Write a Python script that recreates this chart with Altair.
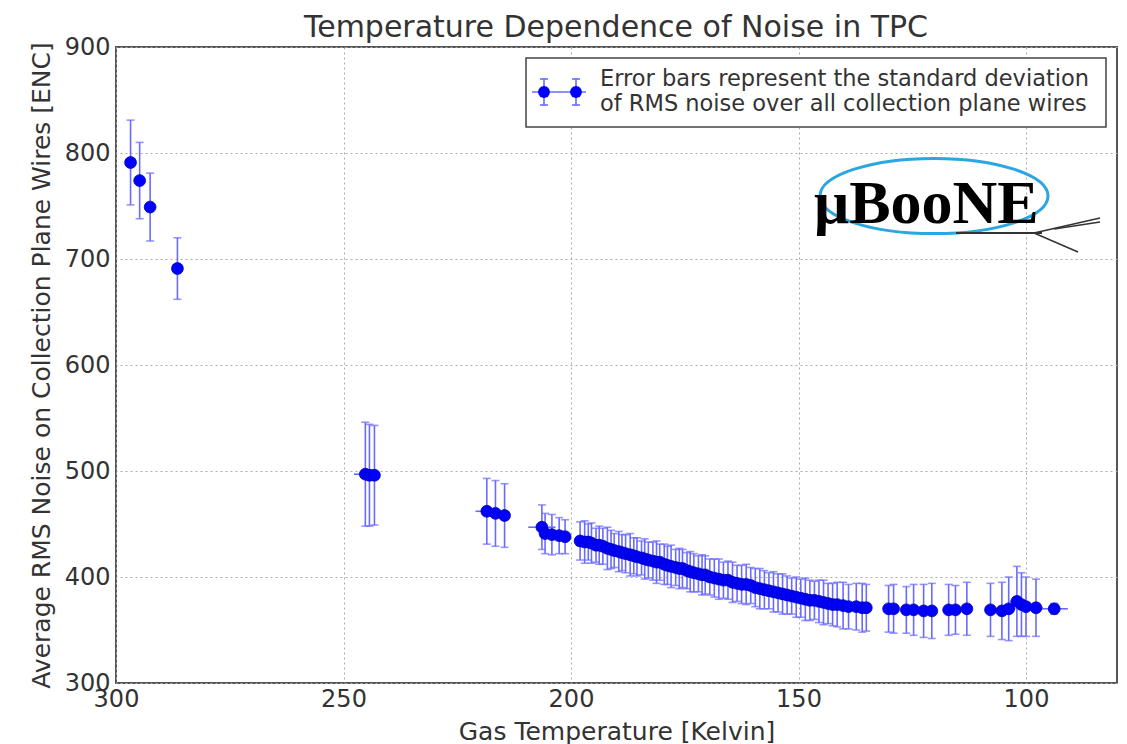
import altair as alt
import pandas as pd

# ---------------- data ----------------
TEMP = [
    296.8, 294.8, 292.5, 286.5,
    245.2, 244.3, 243.2,
    218.5, 216.6, 214.6,
    206.4, 205.7, 204.2, 202.6, 201.3,
    198.0, 197.0, 196.2, 195.5, 194.5, 193.8, 193.0, 192.0, 191.2, 190.5,
    189.5, 188.8, 188.0, 187.0, 186.2, 185.5, 184.5, 183.8, 183.0, 182.0,
    181.2, 180.5, 179.5, 178.8, 178.0, 177.0, 176.2, 175.5, 174.5, 173.8,
    173.0, 172.0, 171.2, 170.5, 169.5, 168.5, 167.5, 166.5, 165.5, 164.5,
    163.5, 162.5, 161.5, 160.5, 159.5, 158.5, 157.5, 156.5, 155.5, 154.5,
    153.5, 152.5, 151.5, 150.5, 149.5, 148.5, 147.5, 146.5, 145.5, 144.5,
    143.5, 142.5, 141.5, 140.2, 139.0, 137.3, 136.0, 135.1,
    130.2, 129.1, 126.3, 124.7, 122.5, 120.7, 117.0, 115.5, 113.0,
    107.8, 105.3, 103.8, 102.0, 101.0, 100.0, 97.8, 93.8,
]
NOISE = [
    791, 774, 749, 691,
    497, 496, 496,
    462, 460, 458,
    447, 441, 440, 439, 438,
    434, 433, 433, 432, 430, 430, 429, 427, 426, 425,
    424, 423, 422, 421, 420, 419, 418, 417, 416, 415,
    414, 414, 412, 411, 410, 409, 408, 408, 406, 405,
    404, 403, 402, 402, 400, 399, 398, 397, 397, 395,
    394, 393, 393, 392, 390, 389, 388, 387, 386, 385,
    384, 383, 382, 381, 380, 379, 378, 378, 377, 376,
    375, 374, 374, 373, 372, 372, 371, 371,
    370, 370, 369, 369, 368, 368, 369, 369, 370,
    369, 368, 370, 377, 374, 372, 371, 370,
]
NOISE_ERR = [
    40, 36, 32, 29,
    49, 48, 47,
    31, 31, 30,
    21, 19, 19, 17, 16,
    18, 20, 17, 19, 16, 18, 17, 20, 18, 16,
    19, 17, 18, 20, 17, 18, 16, 19, 17, 18,
    20, 17, 19, 18, 20, 17, 19, 18, 17, 19,
    18, 17, 19, 18, 17, 18, 19, 17, 18, 19,
    17, 18, 19, 17, 18, 19, 18, 17, 19, 18,
    19, 18, 17, 19, 18, 20, 19, 18, 20, 21,
    19, 20, 21, 22, 21, 22, 23, 22,
    22, 23, 22, 24, 25, 26, 24, 23, 25,
    25, 27, 30, 33, 30, 28, 27, 5,
]
TEMP_ERR = [
    0.3, 0.3, 0.3, 0.3,
    2.5, 1.0, 0.5,
    2.5, 0.5, 0.5,
    3.0, 1.0, 1.0, 0.5, 0.5,
    1.0, 0.8, 0.6, 0.8, 0.6, 0.8, 0.6, 0.8, 0.6, 0.8,
    0.6, 0.8, 0.6, 0.8, 0.6, 0.8, 0.6, 0.8, 0.6, 0.8,
    0.6, 0.8, 0.6, 0.8, 0.6, 0.8, 0.6, 0.8, 0.6, 0.8,
    0.6, 0.8, 0.6, 0.8, 0.6, 0.8, 0.6, 0.8, 0.6, 0.8,
    0.6, 0.8, 0.6, 0.8, 0.6, 0.8, 0.6, 0.8, 0.6, 0.8,
    0.6, 0.8, 0.6, 0.8, 0.6, 0.8, 0.6, 0.8, 0.6, 0.8,
    0.6, 0.8, 0.6, 0.8, 1.0, 1.0, 1.0, 1.0,
    1.0, 1.0, 1.0, 1.0, 1.0, 1.0, 1.0, 1.0, 1.0,
    1.0, 1.0, 1.5, 1.5, 1.5, 1.5, 1.5, 3.0,
]

X_TICKS = [300, 250, 200, 150, 100]
Y_TICKS = [300, 400, 500, 600, 700, 800, 900]
TITLE = "Temperature Dependence of Noise in TPC"
X_TITLE = "Gas Temperature [Kelvin]"
Y_TITLE = "Average RMS Noise on Collection Plane Wires [ENC]"
LEGEND_LINES = ["Error bars represent the standard deviation",
                "of RMS noise over all collection plane wires"]
LOGO_TEXT = "\u03bcBooNE"

df = pd.DataFrame({"T": TEMP, "N": NOISE, "dN": NOISE_ERR, "dT": TEMP_ERR})

BLUE = "#0000ff"
ERR = "#6a6aff"
FONT = "DejaVu Sans"
TXT = "#333333"

xscale = alt.Scale(domain=[80, 300], reverse=True, nice=False, zero=False)
yscale = alt.Scale(domain=[300, 900], nice=False, zero=False)

x_axis = alt.Axis(title=X_TITLE, values=X_TICKS, labelFlush=False, labelPadding=4,
                  titlePadding=8, format="d")
y_axis = alt.Axis(title=Y_TITLE, values=Y_TICKS, labelPadding=6, titlePadding=10,
                  format="d")

base = alt.Chart(df).transform_calculate(
    lo="datum.N - datum.dN", hi="datum.N + datum.dN",
    tlo="datum.T - datum.dT", thi="datum.T + datum.dT",
)

vbars = base.mark_rule(color=ERR, strokeWidth=1.6).encode(
    x=alt.X("T:Q", scale=xscale, axis=x_axis),
    y=alt.Y("lo:Q", scale=yscale, axis=y_axis),
    y2="hi:Q",
)
cap_lo = base.mark_tick(color=ERR, orient="horizontal", size=8, thickness=1.6).encode(
    x=alt.X("T:Q", scale=xscale, axis=x_axis),
    y=alt.Y("lo:Q", scale=yscale, axis=y_axis),
)
cap_hi = base.mark_tick(color=ERR, orient="horizontal", size=8, thickness=1.6).encode(
    x=alt.X("T:Q", scale=xscale, axis=x_axis),
    y=alt.Y("hi:Q", scale=yscale, axis=y_axis),
)
hbars = base.mark_rule(color=ERR, strokeWidth=1.6).encode(
    x=alt.X("tlo:Q", scale=xscale, axis=x_axis),
    x2="thi:Q",
    y=alt.Y("N:Q", scale=yscale, axis=y_axis),
)
points = base.mark_point(shape="circle", filled=True, color=BLUE, size=140, opacity=1,
                         stroke="#0000b0", strokeWidth=0.8).encode(
    x=alt.X("T:Q", scale=xscale, axis=x_axis),
    y=alt.Y("N:Q", scale=yscale, axis=y_axis),
)

one = pd.DataFrame({"k": [0]})


def seg(x1, y1, x2, y2, color, width, opacity=1.0):
    return alt.Chart(one).mark_rule(color=color, strokeWidth=width, opacity=opacity).encode(
        x=alt.value(x1), y=alt.value(y1), x2=alt.value(x2), y2=alt.value(y2))


# ---------------- chart title (as text above the frame) ----------------
title_text = alt.Chart(one).mark_text(text=TITLE, align="center", baseline="alphabetic",
                                      font=FONT, fontSize=30, color=TXT).encode(
    x=alt.value(500), y=alt.value(-10))

# ---------------- legend box (pixel offsets inside plot area) ----------------
leg_rect = alt.Chart(one).mark_rect(fill="white", stroke="#444", strokeWidth=1.5).encode(
    x=alt.value(410), x2=alt.value(990), y=alt.value(11), y2=alt.value(80))
leg_text1 = alt.Chart(one).mark_text(text=LEGEND_LINES[0], align="left", baseline="alphabetic",
                                     font=FONT, fontSize=22.5, color=TXT).encode(
    x=alt.value(484), y=alt.value(39))
leg_text2 = alt.Chart(one).mark_text(text=LEGEND_LINES[1], align="left", baseline="alphabetic",
                                     font=FONT, fontSize=22.5, color=TXT).encode(
    x=alt.value(484), y=alt.value(64))
leg_parts = [
    seg(416, 45, 470, 45, ERR, 1.6),
    seg(428, 32, 428, 58, ERR, 1.6),
    seg(460, 32, 460, 58, ERR, 1.6),
    seg(424, 32, 432, 32, ERR, 1.6),
    seg(424, 58, 432, 58, ERR, 1.6),
    seg(456, 32, 464, 32, ERR, 1.6),
    seg(456, 58, 464, 58, ERR, 1.6),
]
leg_marks = alt.Chart(pd.DataFrame({"px": [428, 460]})).mark_point(
    shape="circle", filled=True, color=BLUE, size=140, opacity=1).encode(
    x=alt.X("px:Q", scale=None, axis=None), y=alt.value(45))

# ---------------- uBooNE logo ----------------
ellipse_path = "M -1 0 A 1 0.33 0 1 1 1 0 A 1 0.33 0 1 1 -1 0 Z"
logo_ellipse = alt.Chart(one).mark_point(shape=ellipse_path, size=228 * 228, filled=False,
                                         stroke="#2aa6e0", strokeWidth=3, opacity=1).encode(
    x=alt.value(818), y=alt.value(149))
logo_text = alt.Chart(one).mark_text(text=LOGO_TEXT, align="left", baseline="alphabetic",
                                     font="Liberation Serif", fontWeight="bold", fontSize=62,
                                     color="black").encode(
    x=alt.value(698), y=alt.value(176))
logo_parts = [
    seg(840, 186, 926, 186, "#333", 2),
    seg(918, 186, 984, 171, "#333", 1.5),
    seg(938, 182, 984, 175, "#333", 1.5),
    seg(918, 186, 962, 205, "#333", 1.5),
]

chart = alt.layer(
    vbars, hbars, cap_lo, cap_hi, points,
    leg_rect, *leg_parts, leg_marks, leg_text1, leg_text2,
    logo_ellipse, *logo_parts, logo_text, title_text,
).properties(
    width=1001, height=636,
    padding={"left": 116, "top": 47, "right": 10, "bottom": 61},
    autosize=alt.AutoSizeParams(type="none"),
).configure_view(
    stroke="#555", strokeWidth=2
).configure_axis(
    grid=True, gridDash=[2, 3], gridColor="#aaaaaa", gridWidth=1,
    domain=False, ticks=False,
    labelFont=FONT, labelFontSize=24, labelColor=TXT,
    titleFont=FONT, titleFontSize=25, titleFontWeight="normal", titleColor=TXT,
)

chart.save("out.html", embed_options={"renderer": "svg", "actions": False})
